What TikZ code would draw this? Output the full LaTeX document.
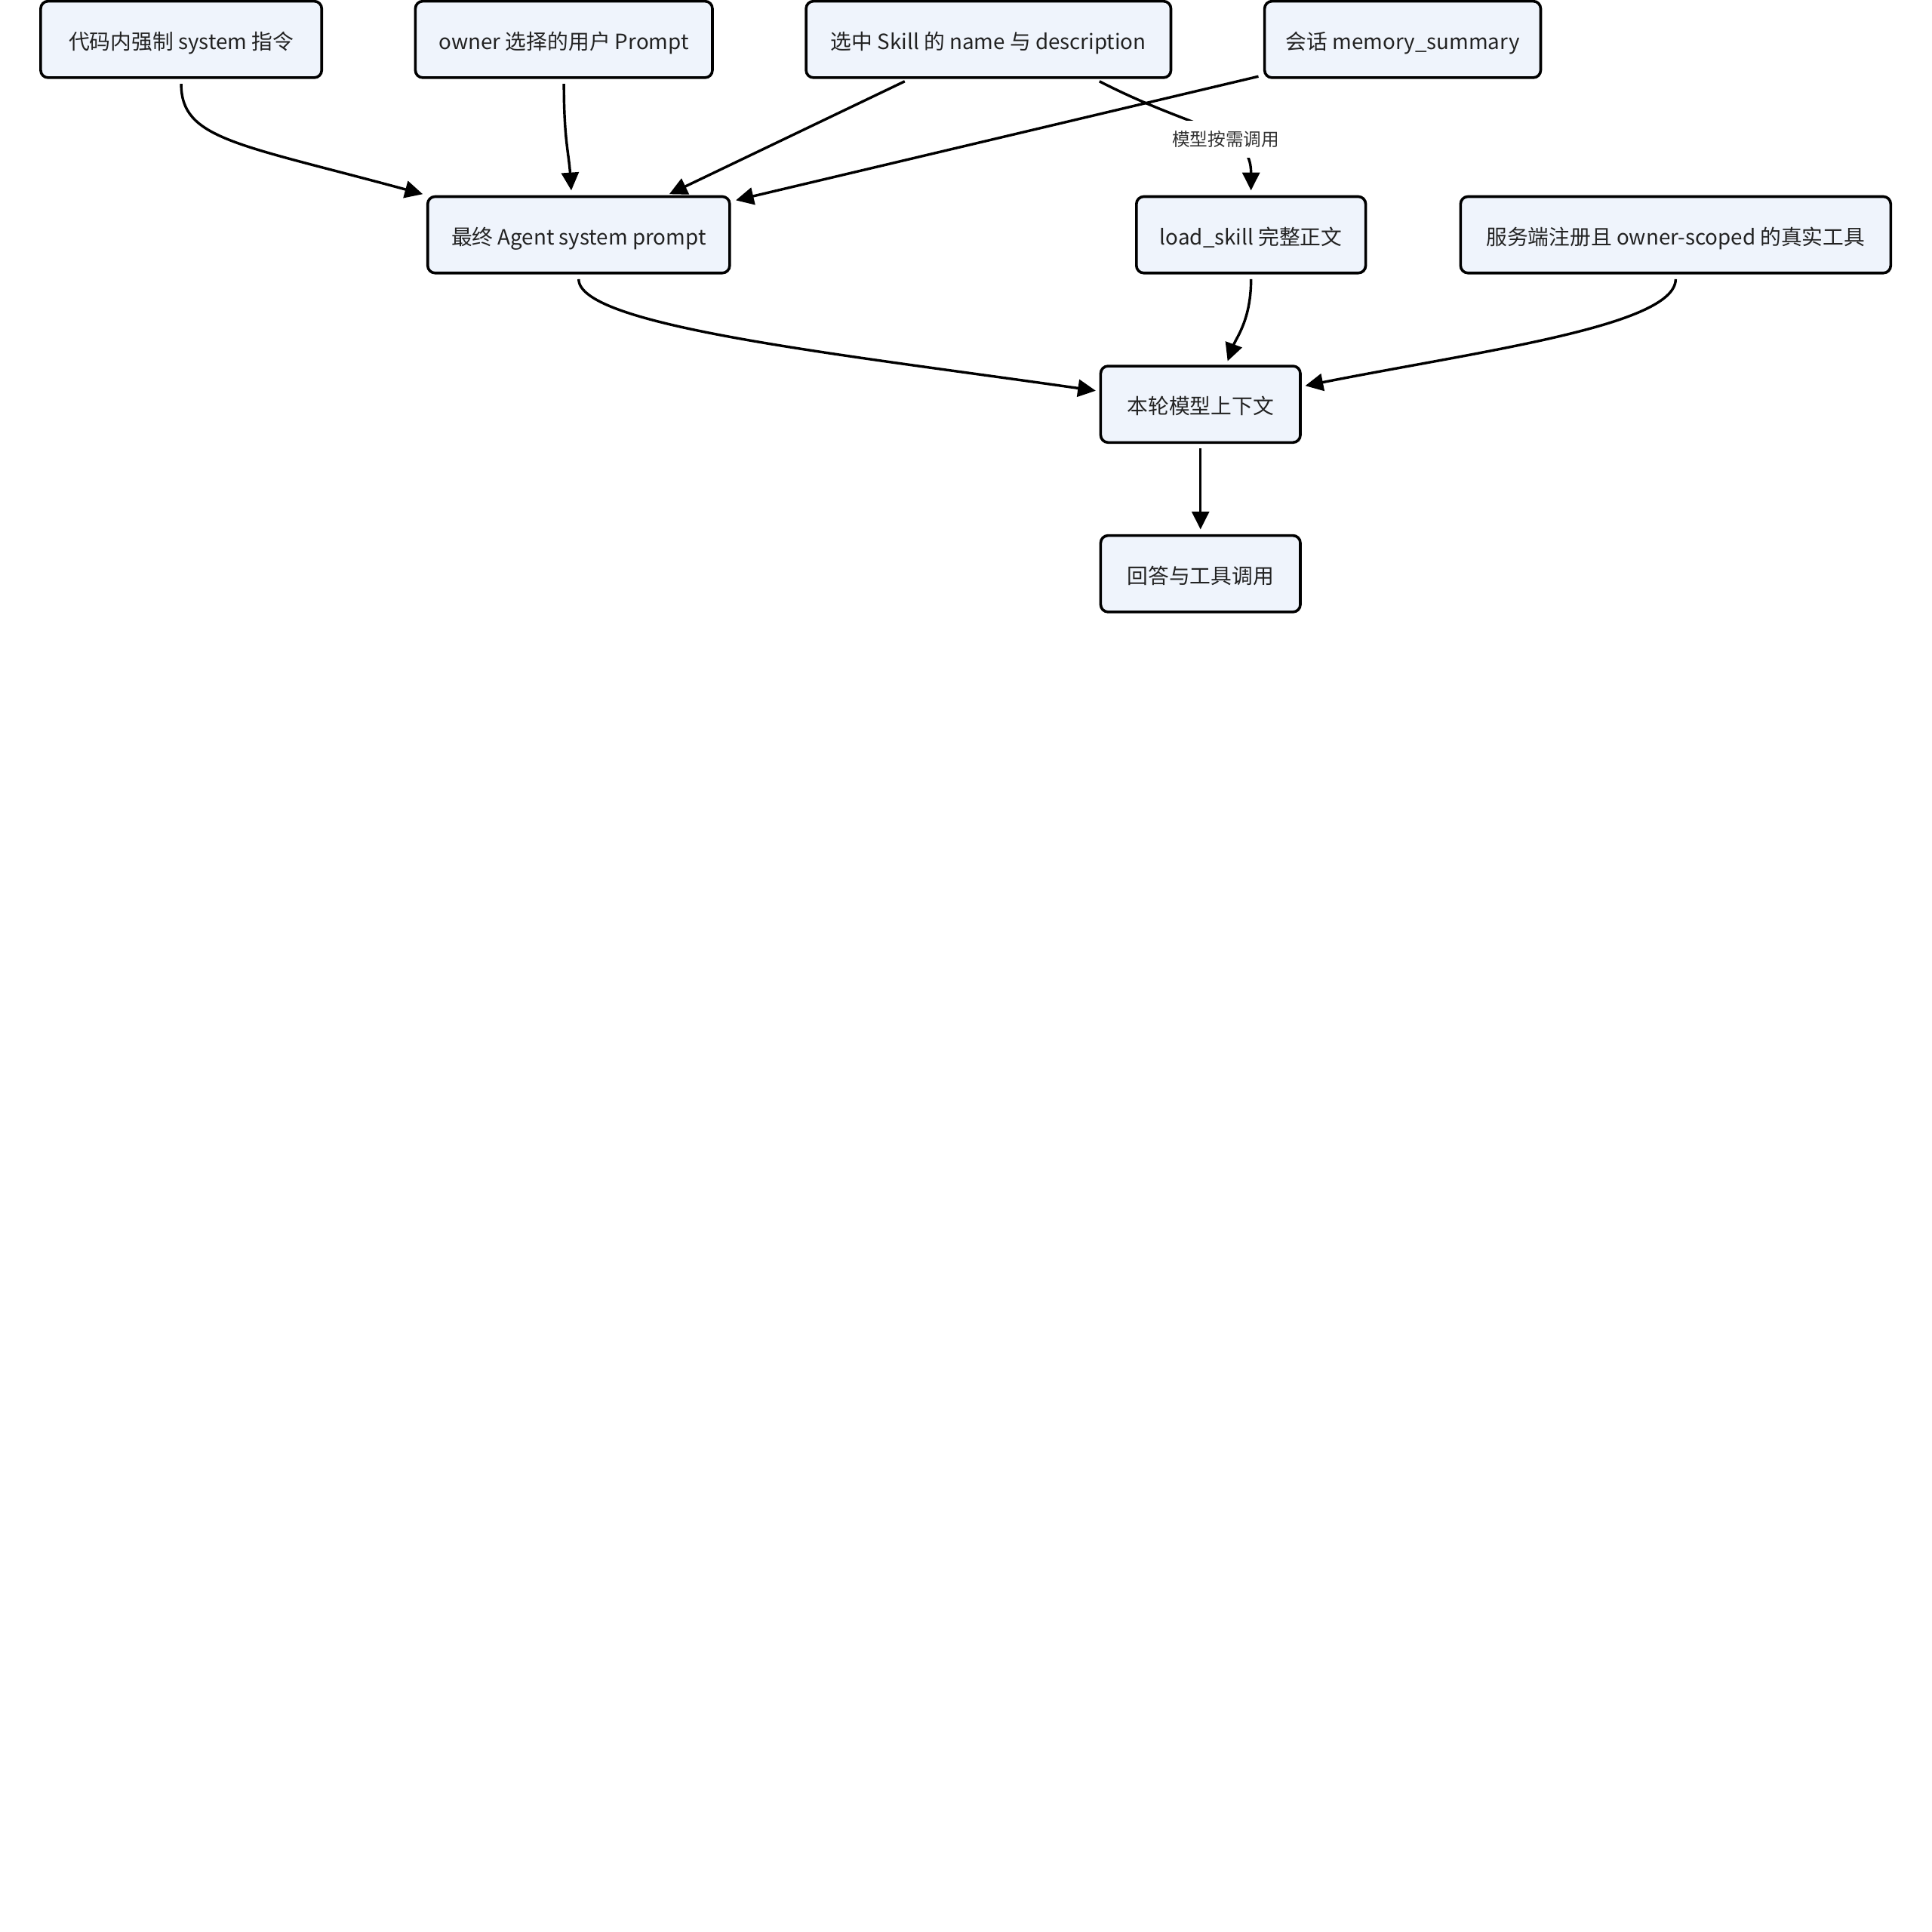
\documentclass[tikz,border=0pt]{standalone}
\usepackage{fontspec}
\setmainfont{Noto Sans CJK SC}
\usetikzlibrary{arrows.meta,calc}
\definecolor{boxfill}{RGB}{239,244,252}
\definecolor{txt}{RGB}{34,34,34}
\definecolor{lbl}{RGB}{51,51,51}
\begin{document}
\begin{tikzpicture}[x=1pt,y=-1pt,
  box/.style={draw=black,line width=2.2pt,fill=boxfill,rounded corners=6pt,
    minimum height=62pt,inner sep=0pt,outer sep=5pt,text=txt,
    text height=19pt,text depth=3pt,font=\fontsize{17}{20}\selectfont},
  edge/.style={line width=2.1pt,-{Triangle[length=14.5pt,width=14pt]}},
  elabel/.style={fill=white,text=lbl,font=\fontsize{14.5}{17}\selectfont,
    inner xsep=3pt,inner ysep=8pt}]
\useasboundingbox (0,0) rectangle (1567.5,1567.5);
\node[box,minimum width=228pt] (n1) at (147,32) {代码内强制 system 指令};
\node[box,minimum width=241pt] (n2) at (457.5,32) {owner 选择的用户 Prompt};
\node[box,minimum width=296pt] (n3) at (802,32) {选中 Skill 的 name 与 description};
\node[box,minimum width=224pt] (n4) at (1138,32) {会话 memory\_summary};
\node[box,minimum width=245pt] (n5) at (469.5,190.5) {最终 Agent system prompt};
\node[box,minimum width=186pt] (n6) at (1015,190.5) {load\_skill 完整正文};
\node[box,minimum width=349pt] (n7) at (1359.5,190.5) {服务端注册且 owner-scoped 的真实工具};
\node[box,minimum width=162pt] (n8) at (974,328) {本轮模型上下文};
\node[box,minimum width=162pt] (n9) at (974,465.5) {回答与工具调用};
% edges
\draw[edge] (n1.south) .. controls ($(n1.south)+(0,45)$) and ($(n5.north west)+(-150,-38)$) .. ($(n5.north west)+(1,3)$);
\draw[edge] (n2.south) .. controls ($(n2.south)+(0,45)$) and ($(n5.north)+(-8,-30)$) .. ($(n5.north)+(-6,0)$);
\draw[edge] ($(n3.south)+(-68,-2)$) -- ($(n5.north)+(73.5,3)$);
\draw[edge] ($(n4.south west)+(0,-6)$) -- ($(n5.north east)+(0,8)$);
\draw[edge] ($(n3.south)+(90,-2)$) .. controls ($(n3.south)+(172,40)$) and ($(n6.north)+(0,-50)$) .. (n6.north);
\node[elabel] (lb) at (994.5,113) {模型按需调用};
\draw[edge] (n5.south) .. controls ($(n5.south)+(0,38)$) and ($(n8.west)+(-209,-41)$) .. ($(n8.west)+(1,-11)$);
\draw[edge] (n6.south) .. controls ($(n6.south)+(0,33)$) and ($(n8.north)+(29,-18)$) .. ($(n8.north)+(22,1)$);
\draw[edge] (n7.south) .. controls ($(n7.south)+(0,38)$) and ($(n8.east)+(140,-43)$) .. ($(n8.east)+(-1,-15)$);
\draw[edge] (n8.south) -- (n9.north);
\end{tikzpicture}
\end{document}
